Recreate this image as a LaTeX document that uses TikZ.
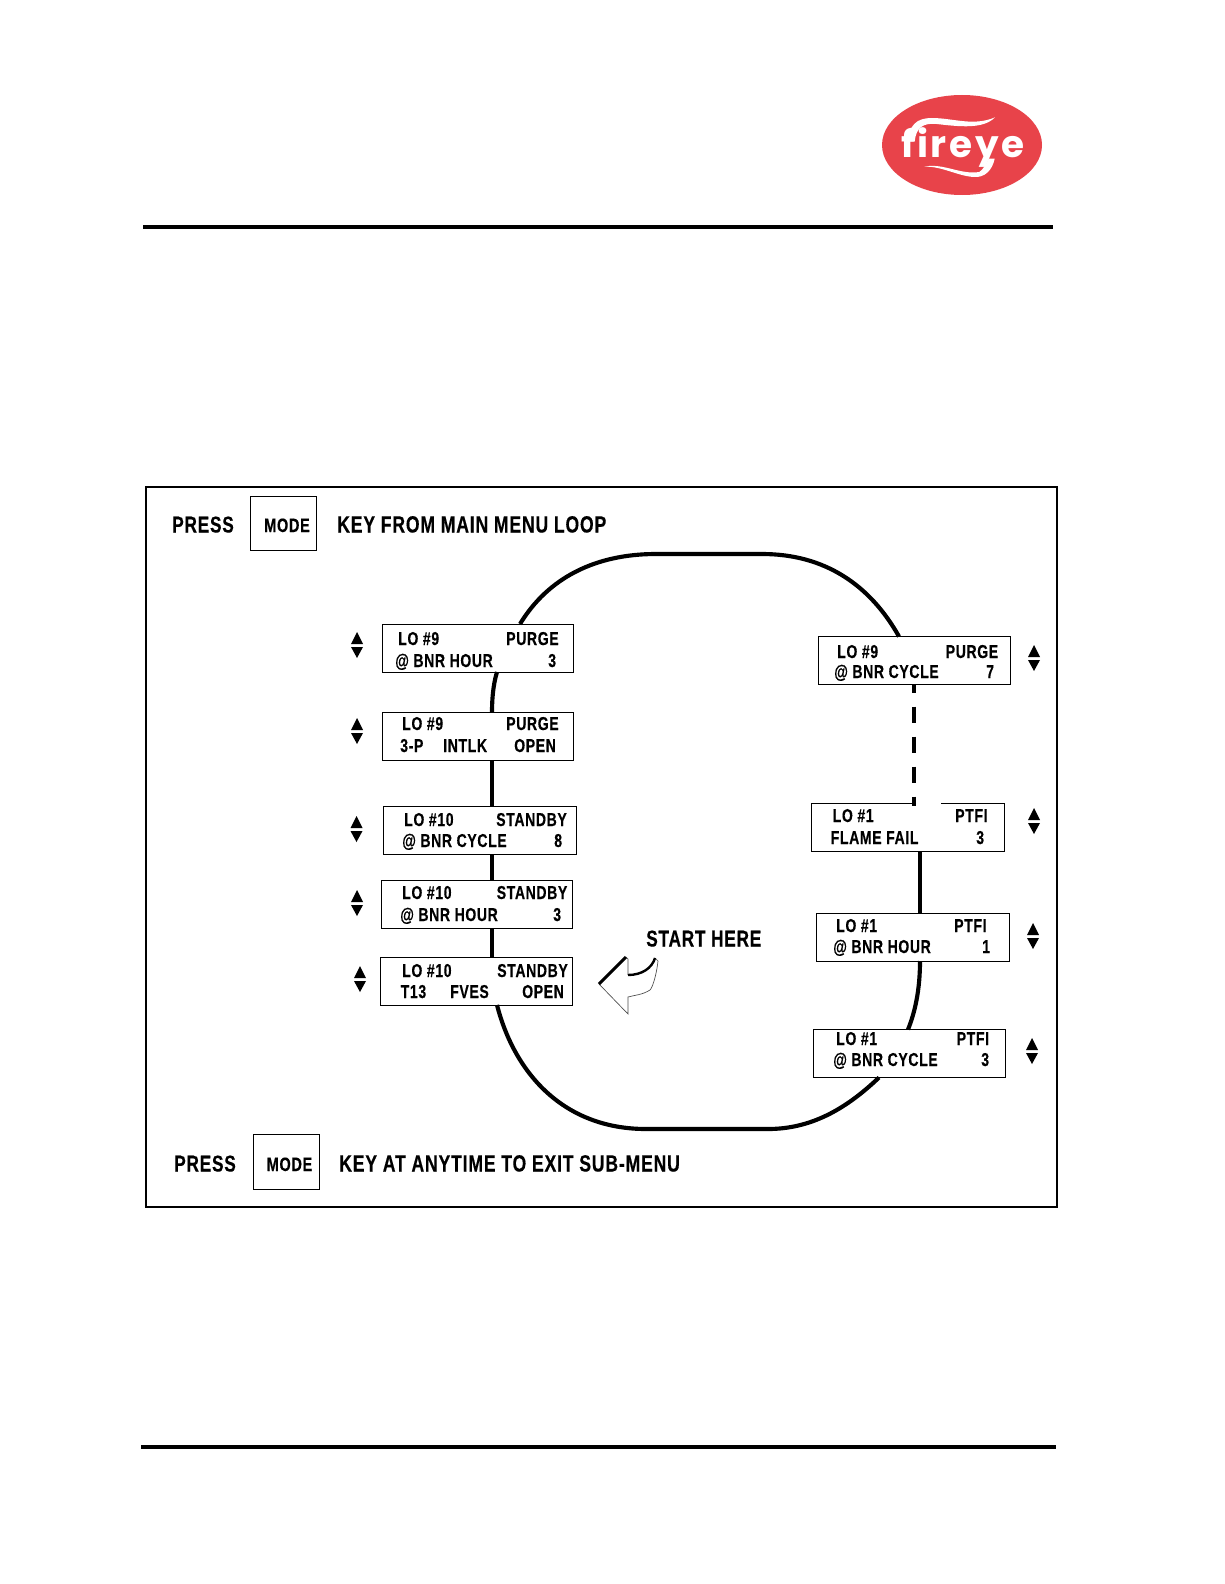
\documentclass[tikz,border=0pt]{standalone}
\usepackage{fontspec}
\setmainfont{Liberation Sans}[FakeStretch=0.75,LetterSpace=3.5,FakeBold=0.35]
\newfontfamily\logofont{Poppins}[LetterSpace=7]
\definecolor{logored}{HTML}{E8434A}
\usetikzlibrary{calc}
\tikzset{
  x=.75pt,y=.75pt,
  rule/.style={line width=3pt},
  lcd/.style={draw=black,line width=.65pt,minimum width=#1*.75pt,minimum height=36pt,inner sep=0pt,outer sep=0pt},
  keybox/.style={draw=black,line width=.6pt,minimum width=49.5pt,minimum height=41pt,inner sep=0pt,outer sep=0pt},
  tx/.style={anchor=base west,inner sep=0pt,font=\bfseries\fontsize{14}{16}\selectfont},
  big/.style={anchor=base west,inner sep=0pt,font=\bfseries\fontsize{17.2}{20}\selectfont},
  sentence/.style={anchor=base west,inner sep=0pt,font=\bfseries\fontsize{17.6}{20}\selectfont},
  mode/.style={anchor=base west,inner sep=0pt,font=\bfseries\fontsize{14.5}{16}\selectfont},
  loopline/.style={line width=3.1pt},
  tri/.style={fill=black,draw=none},
}
\newcommand{\updn}[2]{%
  \fill[tri] (#1-6,-#2-1.5) -- (#1+6,-#2-1.5) -- (#1,-#2-12.5) -- cycle;
  \fill[tri] (#1-6,-#2+1.5) -- (#1+6,-#2+1.5) -- (#1,-#2+13.5) -- cycle;
}
\begin{document}
\begin{tikzpicture}
\useasboundingbox (0,0) rectangle (1224,-1584);
\fill[white] (0,0) rectangle (1224,-1584);

% logo
\fill[logored] (962,-145) ellipse [x radius=80, y radius=50];
\begin{scope}[shift={(860,-80)},x=.25pt,y=-.25pt]
  \fill[white] (143,185) .. controls (148,135) and (170,114) .. (215,114)
    .. controls (280,114) and (340,140) .. (405,112)
    .. controls (370,148) and (300,140) .. (230,132)
    .. controls (190,128) and (168,142) .. (164,185) -- cycle;
  \fill[white] (192,260) .. controls (250,248) and (300,285) .. (358,276)
    .. controls (370,268) and (380,250) .. (386,236) -- (404,236)
    .. controls (397,270) and (375,294) .. (340,291)
    .. controls (290,287) and (245,258) .. (192,260) -- cycle;
  \node[anchor=base,inner sep=0pt,text=white,font=\logofont\bfseries\fontsize{28}{30}\selectfont] (logotext) at (308,232) {fireye};
\end{scope}

% rules and frame
\draw[rule] (143,-227) coordinate (ha) -- (1053,-227) coordinate (hb);
\draw[rule] (141,-1447) coordinate (fa) -- (1056,-1447) coordinate (fb);
\node[draw=black,line width=1.5pt,minimum width=683pt,minimum height=540pt,inner sep=0pt,anchor=north west] (frame) at (145,-486) {};

% key boxes
\node[keybox] (key1) at (283,-523.5) {};
\node[keybox] (key2) at (286.5,-1162) {};
\node[big] (press1) at (172,-532.5) {PRESS};
\node[mode] (mode1) at (264,-532) {MODE};
\node[sentence] (head) at (337,-532.5) {KEY FROM MAIN MENU LOOP};
\node[big] (press2) at (174,-1171.5) {PRESS};
\node[mode] (mode2) at (266.5,-1171) {MODE};
\node[sentence] (foot) at (339,-1171.5) {KEY AT ANYTIME TO EXIT SUB-MENU};
\node[big] (start) at (646,-946.5) {START HERE};

% LCD boxes
\node[lcd=190.5] (l1) at (477.75,-648) {};
\node[lcd=191] (l2) at (477.5,-736) {};
\node[lcd=193] (l3) at (479.5,-830) {};
\node[lcd=191] (l4) at (476.5,-904.5) {};
\node[lcd=192] (l5) at (476,-981) {};
\node[lcd=192] (r1) at (914,-660.5) {};
\node[lcd=193,draw=none] (r2) at (907.5,-827.5) {};
\node[lcd=193] (r3) at (912.5,-937) {};
\node[lcd=192] (r4) at (909,-1053.5) {};
\coordinate (gapa) at (916,0);
\coordinate (gapb) at (941,0);
\draw[line width=.65pt] (r2.north -| gapa) -- (r2.north west) -- (r2.south west) -- (r2.south east) -- (r2.north east) -- (r2.north -| gapb);

% LCD text
\node[tx] (t1a) at (398,-645) {LO \#9};
\node[tx] (t1b) at (506,-645) {PURGE};
\node[tx] (t1c) at (395,-667) {@ BNR HOUR};
\node[tx] (t1d) at (548,-667) {3};
\node[tx] (t2a) at (402,-730) {LO \#9};
\node[tx] (t2b) at (506,-730) {PURGE};
\node[tx] (t2c) at (400,-752) {3-P};
\node[tx] (t2d) at (443,-752) {INTLK};
\node[tx] (t2e) at (514,-752) {OPEN};
\node[tx] (t3a) at (404,-826) {LO \#10};
\node[tx] (t3b) at (496,-826) {STANDBY};
\node[tx] (t3c) at (402,-847) {@ BNR CYCLE};
\node[tx] (t3d) at (554,-847) {8};
\node[tx] (t4a) at (402,-899) {LO \#10};
\node[tx] (t4b) at (496.5,-899) {STANDBY};
\node[tx] (t4c) at (400,-921) {@ BNR HOUR};
\node[tx] (t4d) at (553,-921) {3};
\node[tx] (t5a) at (402,-977) {LO \#10};
\node[tx] (t5b) at (497,-977) {STANDBY};
\node[tx] (t5c) at (400.5,-998) {T13};
\node[tx] (t5d) at (450,-998) {FVES};
\node[tx] (t5e) at (522,-998) {OPEN};
\node[tx] (u1a) at (837,-658) {LO \#9};
\node[tx] (u1b) at (945.5,-658) {PURGE};
\node[tx] (u1c) at (834,-678) {@ BNR CYCLE};
\node[tx] (u1d) at (986,-678) {7};
\node[tx] (u2a) at (832.5,-822) {LO \#1};
\node[tx] (u2b) at (955,-822) {PTFI};
\node[tx] (u2c) at (830.5,-844) {FLAME FAIL};
\node[tx] (u2d) at (976,-844) {3};
\node[tx] (u3a) at (836,-932) {LO \#1};
\node[tx] (u3b) at (954,-932) {PTFI};
\node[tx] (u3c) at (833,-953) {@ BNR HOUR};
\node[tx] (u3d) at (982,-953) {1};
\node[tx] (u4a) at (836,-1045) {LO \#1};
\node[tx] (u4b) at (956.5,-1045) {PTFI};
\node[tx] (u4c) at (833,-1066) {@ BNR CYCLE};
\node[tx] (u4d) at (981,-1066) {3};

% up/down keys
\updn{357}{645.5}
\updn{357}{731.5}
\updn{356.5}{829.5}
\updn{357}{903.5}
\updn{360}{979.5}
\updn{1034}{658.5}
\updn{1034}{821.5}
\updn{1033}{936.5}
\updn{1032}{1051.5}

% loop
\coordinate (xa) at (520,0);
\coordinate (xb) at (899,0);
\coordinate (xc) at (497,0);
\coordinate (xd) at (492,0);
\coordinate (xe) at (879,0);
\coordinate (xf) at (914,0);
\coordinate (xg) at (920,0);
\coordinate (xh) at (908,0);
\draw[loopline] (l1.north -| xa) .. controls (548,-578) and (595,-554) .. (656,-554)
  -- (762,-554) .. controls (825,-554) and (870,-585) .. (r1.north -| xb);
\draw[loopline] (l1.south -| xc) .. controls (493,-685) and (492,-700) .. (l2.north -| xd);
\draw[loopline] (l2.south -| xd) -- (l3.north -| xd);
\draw[loopline] (l3.south -| xd) -- (l4.north -| xd);
\draw[loopline] (l4.south -| xd) -- (l5.north -| xd);
\draw[loopline] (l5.south -| xc) .. controls (515,-1075) and (565,-1129) .. (646,-1129)
  -- (768,-1129) .. controls (810,-1129) and (845,-1110) .. (r4.south -| xe);
\draw[line width=2.6pt,dash pattern=on 12pt off 10.5pt,dash phase=6pt] (r1.south -| xf) -- ([yshift=-1.5pt]r2.north -| xf);
\draw[loopline] (r2.south -| xg) -- (r3.north -| xg);
\draw[loopline] (r3.south -| xg) .. controls (920,-990) and (915,-1012) .. (r4.north -| xh);

% start arrow
\draw[line width=.5pt,draw=black!70] (626,-957) -- (628,-959) -- (628,-975);
\draw[line width=.5pt,draw=black!70] (655,-958) -- (658,-961) .. controls (656,-978) and (652,-988) .. (650,-990)
  .. controls (642,-995) and (635,-995) .. (628,-997) -- (628,-1014) -- (599,-984);
\draw[line width=2.2pt] (599,-984) -- (626,-957);
\draw[line width=1.8pt] (628,-975) .. controls (642,-975) and (652,-968) .. (655,-958);
\end{tikzpicture}
\end{document}
